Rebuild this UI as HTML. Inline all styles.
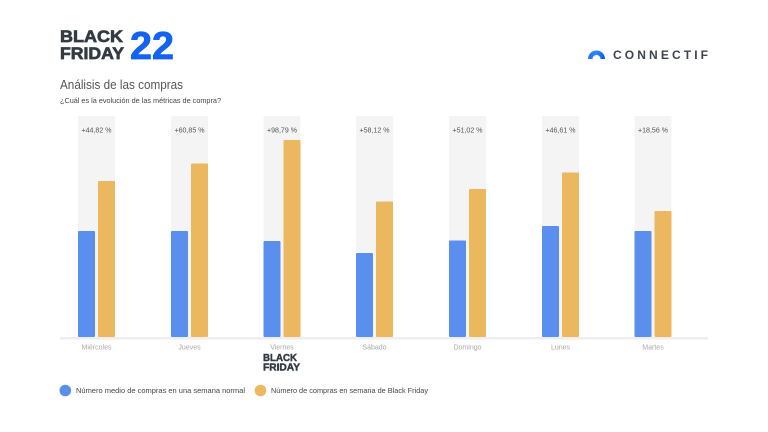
<!DOCTYPE html>
<html><head><meta charset="utf-8"><style>
html,body{margin:0;padding:0;background:#fff;}
svg{display:block;}
text{font-family:"Liberation Sans",sans-serif;}
</style></head><body>
<svg width="768" height="432" viewBox="0 0 768 432" xmlns="http://www.w3.org/2000/svg">
<defs>
<linearGradient id="arc" x1="0" y1="0" x2="1" y2="0">
<stop offset="0" stop-color="#1e6ff2"/><stop offset="0.5" stop-color="#2f8bff"/><stop offset="1" stop-color="#0a56e6"/>
</linearGradient>
</defs>
<rect width="768" height="432" fill="#fff"/>
<!-- header logo -->
<text x="60" y="42" font-size="17" font-weight="bold" fill="#333a44" stroke="#333a44" stroke-width="0.7" textLength="63" lengthAdjust="spacingAndGlyphs">BLACK</text>
<text x="60" y="59" font-size="17" font-weight="bold" fill="#333a44" stroke="#333a44" stroke-width="0.7" textLength="64" lengthAdjust="spacingAndGlyphs">FRIDAY</text>
<text x="130" y="59" font-size="39" font-weight="bold" fill="#1462f0" stroke="#1462f0" stroke-width="0.8" textLength="44" lengthAdjust="spacingAndGlyphs">22</text>
<!-- connectif -->
<path d="M588,59 A8.5,8.5 0 0 1 605,59 L600.5,59 A4,4 0 0 0 592.5,59 Z" fill="url(#arc)"/>
<text x="613" y="59" font-size="12" font-weight="bold" fill="#3d4450" textLength="95" lengthAdjust="spacing">CONNECTIF</text>
<!-- titles -->
<text x="60" y="89" font-size="13" fill="#555" textLength="123" lengthAdjust="spacingAndGlyphs">Análisis de las compras</text>
<text x="60" y="103" font-size="7.5" fill="#444" textLength="161" lengthAdjust="spacingAndGlyphs">¿Cuál es la evolución de las métricas de compra?</text>
<!-- axis line -->
<rect x="60" y="337" width="648" height="2.5" fill="#eeeeee"/>
<!-- groups -->
<g>
<rect x="78" y="116" width="37" height="221" fill="#f4f4f4"/>
<rect x="78" y="231" width="17" height="106" rx="1" fill="#5b8fee"/>
<rect x="98" y="181" width="17" height="156" rx="1" fill="#ebb75f"/>
<text x="96.5" y="132.5" font-size="7.5" fill="#555" text-anchor="middle" textLength="30" lengthAdjust="spacingAndGlyphs">+44,82 %</text>
<text x="96.5" y="349.5" font-size="7" fill="#a8a8a8" text-anchor="middle">Miércoles</text>
</g>
<g>
<rect x="171" y="116" width="37" height="221" fill="#f4f4f4"/>
<rect x="171" y="231" width="17" height="106" rx="1" fill="#5b8fee"/>
<rect x="191" y="163.5" width="17" height="173.5" rx="1" fill="#ebb75f"/>
<text x="189.5" y="132.5" font-size="7.5" fill="#555" text-anchor="middle" textLength="30" lengthAdjust="spacingAndGlyphs">+60,85 %</text>
<text x="189.5" y="349.5" font-size="7" fill="#a8a8a8" text-anchor="middle">Jueves</text>
</g>
<g>
<rect x="263.5" y="116" width="37" height="221" fill="#f4f4f4"/>
<rect x="263.5" y="241" width="17" height="96" rx="1" fill="#5b8fee"/>
<rect x="283.5" y="140" width="17" height="197" rx="1" fill="#ebb75f"/>
<text x="282" y="132.5" font-size="7.5" fill="#555" text-anchor="middle" textLength="30" lengthAdjust="spacingAndGlyphs">+98,79 %</text>
<text x="282" y="349.5" font-size="7" fill="#a8a8a8" text-anchor="middle">Viernes</text>
<text x="263" y="361" font-size="10" font-weight="bold" fill="#333a44" stroke="#333a44" stroke-width="0.45" textLength="34" lengthAdjust="spacingAndGlyphs">BLACK</text>
<text x="263" y="370.5" font-size="10" font-weight="bold" fill="#333a44" stroke="#333a44" stroke-width="0.45" textLength="37" lengthAdjust="spacingAndGlyphs">FRIDAY</text>
</g>
<g>
<rect x="356" y="116" width="37" height="221" fill="#f4f4f4"/>
<rect x="356" y="253" width="17" height="84" rx="1" fill="#5b8fee"/>
<rect x="376" y="201.5" width="17" height="135.5" rx="1" fill="#ebb75f"/>
<text x="374.5" y="132.5" font-size="7.5" fill="#555" text-anchor="middle" textLength="30" lengthAdjust="spacingAndGlyphs">+58,12 %</text>
<text x="374.5" y="349.5" font-size="7" fill="#a8a8a8" text-anchor="middle">Sábado</text>
</g>
<g>
<rect x="449" y="116" width="37" height="221" fill="#f4f4f4"/>
<rect x="449" y="240.5" width="17" height="96.5" rx="1" fill="#5b8fee"/>
<rect x="469" y="189" width="17" height="148" rx="1" fill="#ebb75f"/>
<text x="467.5" y="132.5" font-size="7.5" fill="#555" text-anchor="middle" textLength="30" lengthAdjust="spacingAndGlyphs">+51,02 %</text>
<text x="467.5" y="349.5" font-size="7" fill="#a8a8a8" text-anchor="middle">Domingo</text>
</g>
<g>
<rect x="542" y="116" width="37" height="221" fill="#f4f4f4"/>
<rect x="542" y="226" width="17" height="111" rx="1" fill="#5b8fee"/>
<rect x="562" y="172.5" width="17" height="164.5" rx="1" fill="#ebb75f"/>
<text x="560.5" y="132.5" font-size="7.5" fill="#555" text-anchor="middle" textLength="30" lengthAdjust="spacingAndGlyphs">+46,61 %</text>
<text x="560.5" y="349.5" font-size="7" fill="#a8a8a8" text-anchor="middle">Lunes</text>
</g>
<g>
<rect x="634.5" y="116" width="37" height="221" fill="#f4f4f4"/>
<rect x="634.5" y="231" width="17" height="106" rx="1" fill="#5b8fee"/>
<rect x="654.5" y="211" width="17" height="126" rx="1" fill="#ebb75f"/>
<text x="653" y="132.5" font-size="7.5" fill="#555" text-anchor="middle" textLength="30" lengthAdjust="spacingAndGlyphs">+18,56 %</text>
<text x="653" y="349.5" font-size="7" fill="#a8a8a8" text-anchor="middle">Martes</text>
</g>
<!-- legend -->
<circle cx="65.3" cy="390.5" r="5.8" fill="#5b8fee"/>
<text x="76" y="393" font-size="7.5" fill="#444" textLength="169" lengthAdjust="spacingAndGlyphs">Número medio de compras en una semana normal</text>
<circle cx="260.5" cy="390.5" r="5.8" fill="#ebb75f"/>
<text x="271" y="393" font-size="7.5" fill="#444" textLength="157" lengthAdjust="spacingAndGlyphs">Número de compras en semana de Black Friday</text>
</svg>
</body></html>
